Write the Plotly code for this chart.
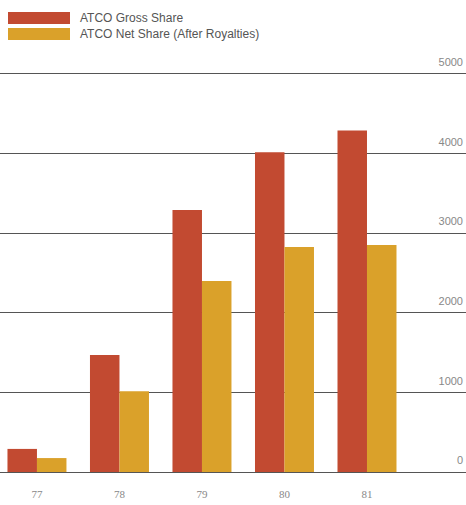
import plotly.graph_objects as go

years = ["77", "78", "79", "80", "81"]
gross = [290, 1470, 3290, 4015, 4290]
net = [175, 1015, 2400, 2825, 2850]
y_ticks = [0, 1000, 2000, 3000, 4000, 5000]
series_names = ["ATCO Gross Share", "ATCO Net Share (After Royalties)"]
colors = ["#C24A31", "#DAA12A"]

fig = go.Figure()
fig.add_trace(go.Bar(x=years, y=gross, name=series_names[0], marker_color=colors[0],
                     marker_line_width=0, showlegend=False))
fig.add_trace(go.Bar(x=years, y=net, name=series_names[1], marker_color=colors[1],
                     marker_line_width=0, showlegend=False))

H = 505
T, B = 50, 33
ph = H - T - B
# legend drawn as swatches + text
for i, (nm, c) in enumerate(zip(series_names, colors)):
    top = 12 + i * 16
    fig.add_shape(type="rect", xref="paper", yref="paper",
                  x0=8 / 466, x1=70 / 466,
                  y0=(H - B - (top + 12)) / ph, y1=(H - B - top) / ph,
                  fillcolor=c, line_width=0)
    fig.add_annotation(xref="paper", yref="paper", x=78 / 466, y=(H - B - (top + 6)) / ph,
                       text=nm, showarrow=False, xanchor="left", yanchor="middle",
                       font=dict(size=12, color="#555", family="Liberation Sans, Arial"))

fig.update_layout(
    width=466, height=505,
    margin=dict(l=0, r=0, t=T, b=B),
    paper_bgcolor="white", plot_bgcolor="white",
    barmode="group", bargap=0.285, bargroupgap=0,
    xaxis=dict(type="category", range=[-0.448, 5.2], showgrid=False, ticks="",
               ticklabelstandoff=14, tickfont=dict(size=11, color="#888", family="Liberation Serif"),
               showline=False, zeroline=False),
    yaxis=dict(range=[0, 5300], tickvals=y_ticks, ticktext=[str(v) for v in y_ticks],
               side="right", ticklabelposition="inside top", showgrid=True,
               ticklabelshift=-4,
               gridcolor="#555", gridwidth=1, zeroline=True, zerolinecolor="#555", zerolinewidth=1,
               tickfont=dict(size=11, color="#888", family="Liberation Sans"), ticks=""),
    font=dict(family="Liberation Sans"),
)

fig.write_html("out.html")
